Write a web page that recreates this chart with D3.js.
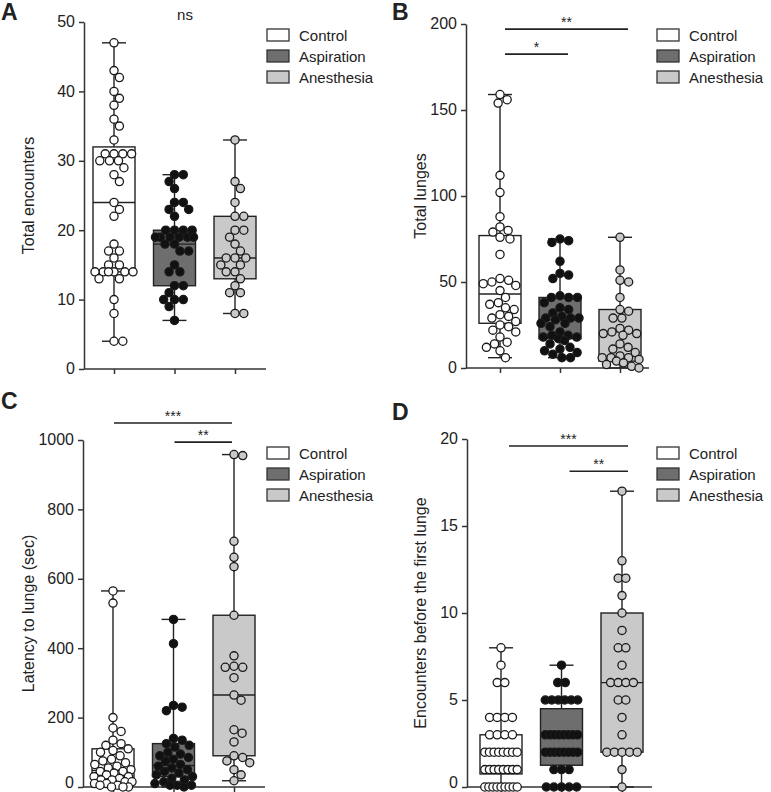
<!DOCTYPE html>
<html><head><meta charset="utf-8">
<script src="https://cdn.jsdelivr.net/npm/d3@7"></script>
<style>
body{margin:0;background:#fff}
svg{display:block}
text{font-family:"Liberation Sans",Arial,Helvetica,sans-serif;fill:#222}
</style>
</head><body>
<svg id="c" width="771" height="792"></svg>
<script>
// ---------------- DATA ----------------
const categories = ["Control", "Aspiration", "Anesthesia"];

// Panel A: Total encounters
const encControl = [47,43,42,40,39,38,36,35,33,31,31,31,31,30,30,30,29,28,27,24,23,22,18,17,17,16,15,15,14,14,14,14,14,14,13,13,10,8,4,4];
const encAspiration = [28,28,27,26,24,24,23,23,22,20,20,20,20,19,19,19,19,19,19,18,18,17,17,15,14,14,12,12,11,10,10,10,9,7];
const encAnesthesia = [33,27,26,24,22,22,20,20,19,18,17,16,16,16,15,15,14,14,13,12,11,11,8,8];
const encBox = [[4,14,24,32,47],[7,12,18,20,28],[8,13,16,22,33]]; // min,q1,median,q3,max
const encTicks = [0,10,20,30,40,50];

// Panel B: Total lunges
const lungeControl = [159,156,154,112,102,88,82,80,79,76,75,66,52,51,50,49,48,45,41,38,37,35,34,31,30,29,27,25,24,22,21,18,15,14,12,10,6];
const lungeAspiration = [75,74,73,62,55,54,52,42,41,41,41,38,35,34,32,30,29,29,29,28,26,26,24,21,19,19,18,18,17,16,14,12,11,10,9,8,6,6];
const lungeAnesthesia = [76,57,51,50,41,34,33,29,29,23,22,21,20,20,19,14,12,11,9,7,6,6,6,5,4,3,2,1,0];
const lungeBox = [[6,26,43,77,159],[6,17,28,41,75],[0,4,21,34,76]];
const lungeTicks = [0,50,100,150,200];

// Panel C: Latency to lunge (sec)
const latControl = [565,530,200,170,160,135,125,120,110,105,100,90,80,75,70,65,60,55,50,45,45,40,35,30,30,25,20,20,15,15,10,10,5,5,0,0,0];
const latAspiration = [483,413,235,230,220,140,135,125,120,115,100,95,90,85,80,75,65,60,55,50,45,40,35,30,25,20,15,10,5,5,5,0];
const latAnesthesia = [958,955,708,662,635,495,378,348,345,345,315,265,250,165,155,130,90,85,75,70,50,35,18];
const latBox = [[0,22,48,110,565],[0,30,62,125,483],[18,90,265,495,958]];
const latTicks = [0,200,400,600,800,1000];

// Panel D: Encounters before the first lunge
const befControl = [0,0,0,0,0,0,0,0,0,1,1,1,1,1,1,1,1,2,2,2,2,2,2,2,2,3,3,3,3,4,4,4,4,6,6,7,8];
const befAspiration = [0,0,0,0,0,1,1,1,2,2,2,2,2,2,2,2,3,3,3,3,3,3,3,3,5,5,5,5,5,5,6,6,7];
const befAnesthesia = [0,1,2,2,2,2,2,3,4,5,5,6,6,6,6,7,8,8,9,10,11,12,12,13,17];
const befBox = [[0,0.75,2,3,8],[0,1.25,3,4.5,7],[0,2,6,10,17]];
const befTicks = [0,5,10,15,20];

// significance annotations (category pair, level in data units, label)
const sigA = [{text:"ns", level:50.3}];
const sigB = [{a:"Control", b:"Anesthesia", level:197, label:"**"},{a:"Control", b:"Aspiration", level:182.5, label:"*"}];
const sigC = [{a:"Control", b:"Anesthesia", level:1049, label:"***"},{a:"Aspiration", b:"Anesthesia", level:994, label:"**"}];
const sigD = [{a:"Control", b:"Anesthesia", level:19.6, label:"***"},{a:"Aspiration", b:"Anesthesia", level:18.15, label:"**"}];

const boxFill = ["#ffffff", "#6e6e6e", "#c9c9c9"];
const dotFill = ["#ffffff", "#111111", "#c9c9c9"];

// ---------------- LAYOUT ----------------
const panels = [
  {letter:"A", lx:1, ly:20, axisX:84, xEnd:266, cat:[114,235], yB:369, yT:22, dom:[0,50], ticks:encTicks,
   title:"Total encounters", tx:33.5, series:[encControl,encAspiration,encAnesthesia], box:encBox, sig:sigA,
   legX:267, legY:29, mode:"swarm", nsX:185, sdx:[0,0]},
  {letter:"B", lx:392, ly:20, axisX:466, xEnd:649, cat:[500,620], yB:368, yT:24, dom:[0,200], ticks:lungeTicks,
   title:"Total lunges", tx:426, series:[lungeControl,lungeAspiration,lungeAnesthesia], box:lungeBox, sig:sigB,
   legX:657, legY:29, mode:"swarm", sdx:[5,8]},
  {letter:"C", lx:1, ly:409, axisX:83, xEnd:265, cat:[113,234], yB:787, yT:440, dom:[0,1000], ticks:latTicks,
   title:"Latency to lunge (sec)", tx:33.5, series:[latControl,latAspiration,latAnesthesia], box:latBox, sig:sigC,
   legX:267, legY:447, mode:"swarm", sdx:[1,-2]},
  {letter:"D", lx:392, ly:420, axisX:467, xEnd:652, cat:[501,622], yB:787, yT:439, dom:[0,20], ticks:befTicks,
   title:"Encounters before the first lunge", tx:426, series:[befControl,befAspiration,befAnesthesia], box:befBox, sig:sigD,
   legX:657, legY:447, mode:"rows", sdx:[8,6]}
];

const svg = d3.select("#c");
const DIA = 8.8, R = 4.1, MAXH = 19;

function swarm(vals, y) {
  const pts = vals.map(v => ({v, y: y(v), dx: 0})).sort((a,b) => a.y - b.y);
  const placed = [];
  pts.forEach(p => {
    const near = placed.filter(q => Math.abs(q.y - p.y) < DIA);
    const cands = [0];
    near.forEach(q => {
      const dy = p.y - q.y;
      const d = Math.sqrt(DIA*DIA - dy*dy); cands.push(q.dx + d, q.dx - d);
    });
    const ok = cands.filter(c => Math.abs(c) <= MAXH + 0.01).sort((a,b) => Math.abs(a) - Math.abs(b));
    let found = null;
    for (const c of ok) {
      if (near.every(q => (q.dx - c)**2 + (q.y - p.y)**2 >= DIA*DIA - 0.01)) { found = c; break; }
    }
    if (found === null) {
      let best = 0, bestD = -1;
      for (let c = -MAXH; c <= MAXH + 0.001; c += 0.5) {
        const dmin = d3.min(near, q => (q.dx - c)**2 + (q.y - p.y)**2);
        if (dmin > bestD + 0.01 || (Math.abs(dmin - bestD) <= 0.01 && Math.abs(c) < Math.abs(best))) { bestD = dmin; best = c; }
      }
      found = best;
    }
    p.dx = found;
    placed.push(p);
  });
  return pts;
}
function rows(vals, y) {
  const out = [];
  for (const [v, arr] of d3.group(vals, d => d)) {
    const n = arr.length, maxW = 40, d0 = 7.6;
    const sp = n > 1 ? Math.min(d0, (maxW - d0) / (n - 1)) : 0;
    arr.forEach((_, i) => out.push({v, y: y(v), dx: (i - (n - 1) / 2) * sp}));
  }
  return out;
}

panels.forEach(p => {
  const g = svg.append("g");
  const y = d3.scaleLinear().domain(p.dom).range([p.yB, p.yT]);
  const x = d3.scalePoint().domain(categories).range(p.cat);

  // y axis
  const ya = g.append("g").attr("transform", `translate(${p.axisX},0)`)
    .call(d3.axisLeft(y).tickValues(p.ticks).tickSize(5).tickSizeOuter(0).tickPadding(4).tickFormat(d3.format("d")));
  ya.select(".domain").attr("stroke", "#333").attr("stroke-width", 1.5);
  ya.selectAll(".tick line").attr("stroke", "#333").attr("stroke-width", 1.5);
  ya.selectAll(".tick text").attr("font-size", 16).attr("fill", "#222")
    .attr("dy", d => (d === 0 && p.yB > 780) ? "0em" : "0.3em")
    .style("font-family", '"Liberation Sans",Arial,sans-serif');

  // x axis
  g.append("line").attr("x1", p.axisX).attr("x2", p.xEnd).attr("y1", p.yB).attr("y2", p.yB)
    .attr("stroke", "#333").attr("stroke-width", 1.5);
  const xa = g.append("g").attr("transform", `translate(0,${p.yB})`)
    .call(d3.axisBottom(x).tickSize(5).tickFormat(""));
  xa.select(".domain").remove();
  xa.selectAll(".tick line").attr("stroke", "#333").attr("stroke-width", 1.5);

  // boxes
  const BW = 42, CAP = 24;
  categories.forEach((c, i) => {
    const [mn, q1, md, q3, mx] = p.box[i];
    const cx = x(c);
    const bg = g.append("g");
    bg.append("line").attr("x1", cx).attr("x2", cx).attr("y1", y(mx)).attr("y2", y(q3)).attr("stroke", "#222").attr("stroke-width", 1.4);
    bg.append("line").attr("x1", cx).attr("x2", cx).attr("y1", y(q1)).attr("y2", y(mn)).attr("stroke", "#222").attr("stroke-width", 1.4);
    [mn, mx].forEach(v => bg.append("line").attr("x1", cx - CAP/2).attr("x2", cx + CAP/2).attr("y1", y(v)).attr("y2", y(v))
      .attr("stroke", "#222").attr("stroke-width", 1.4));
    bg.append("rect").attr("x", cx - BW/2).attr("y", y(q3)).attr("width", BW).attr("height", y(q1) - y(q3))
      .attr("fill", boxFill[i]).attr("stroke", "#222").attr("stroke-width", 1.4);
    bg.append("line").attr("x1", cx - BW/2).attr("x2", cx + BW/2).attr("y1", y(md)).attr("y2", y(md))
      .attr("stroke", "#222").attr("stroke-width", 1.4);
  });

  // points
  categories.forEach((c, i) => {
    const pts = p.mode === "rows" ? rows(p.series[i], y) : swarm(p.series[i], y);
    g.append("g").selectAll("circle").data(pts).join("circle")
      .attr("cx", d => x(c) + d.dx).attr("cy", d => d.y).attr("r", R)
      .attr("fill", dotFill[i]).attr("stroke", "#1a1a1a").attr("stroke-width", 1.3);
  });

  // significance
  p.sig.forEach(s => {
    if (s.text) {
      g.append("text").attr("x", p.nsX).attr("y", y(s.level)).attr("text-anchor", "middle")
        .attr("font-size", 15).text(s.text);
    } else {
      const x1 = x(s.a) + p.sdx[0], x2 = x(s.b) + p.sdx[1], yy = y(s.level);
      g.append("line").attr("x1", x1).attr("x2", x2).attr("y1", yy).attr("y2", yy)
        .attr("stroke", "#222").attr("stroke-width", 1.6);
      g.append("text").attr("x", (x1 + x2) / 2).attr("y", yy - 2).attr("text-anchor", "middle")
        .attr("font-size", 14).text(s.label);
    }
  });

  // legend
  categories.forEach((c, i) => {
    const ly = p.legY + i * 21;
    g.append("rect").attr("x", p.legX).attr("y", ly).attr("width", 22).attr("height", 12)
      .attr("fill", boxFill[i]).attr("stroke", "#333").attr("stroke-width", 1.3);
    g.append("text").attr("x", p.legX + 32).attr("y", ly + 12).attr("font-size", 15).text(c);
  });

  // axis title
  g.append("text").attr("transform", `translate(${p.tx},${(p.yB + p.yT) / 2}) rotate(-90)`)
    .attr("text-anchor", "middle").attr("font-size", 16).text(p.title);

  // panel letter
  g.append("text").attr("x", p.lx).attr("y", p.ly).attr("font-size", 23).attr("font-weight", "bold")
    .attr("fill", "#111").text(p.letter);
});
</script>
</body></html>
